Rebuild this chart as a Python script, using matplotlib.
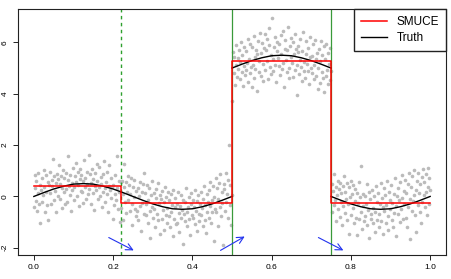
import numpy as np
import matplotlib
matplotlib.use('Agg')
import matplotlib.pyplot as plt

plt.rcParams['font.family'] = ['Liberation Sans', 'DejaVu Sans']

y_seg1 = [
    -0.42, 0.85, 0.31, -0.18, 0.62, -0.55, 0.12, 0.9, -0.3, 0.44, -1.05, 0.27,
    0.71, -0.22, 0.05, 1.02, 0.38, -0.61, 0.19, 0.83, -0.35, 0.57, -0.9, 0.46,
    0.12, 0.95, -0.28, 0.66, 0.41, 1.45, -0.15, 0.78, 0.23, -0.62, 0.54, 0.88,
    0.02, 0.67, 1.21, -0.09, 0.49, 0.81, -0.45, 0.33, 1.02, 0.18, 0.71, -0.31,
    0.92, 0.28, -0.2, 0.63, 1.58, 0.4, 0.07, 0.85, -0.55, 0.51, 0.26, 1.12,
    0.35, -0.12, 0.79, 1.3, 0.55, 0.02, 0.97, 0.44, -0.38, 0.68, 1.05, 0.21,
    0.84, 0.16, -0.25, 0.59, 1.41, 0.37, 0.72, -0.08, 0.96, 0.48, 0.11, 1.63,
    0.29, 0.88, -0.31, 0.53, 1.08, 0.14, 0.69, -0.52, 0.42, 0.93, 0.25, 1.26,
    0.61, -0.1, 0.37, 1.15, 0.02, 0.74, 0.49, -0.43, 0.88, 0.19, 1.38, 0.31,
    -0.22, 0.58, 0.11, 0.94, -0.6, 0.4, 1.22, 0.26, -0.05, 0.71, 0.36, -0.88,
    0.45, -0.34, 0.82, 0.09, -0.15, 1.58, 0.31, -0.48, 0.62, 0.17, -1.0, 0.55,
]
y_seg2 = [
    -0.45, 0.62, 0.08, -0.9, 0.37, 1.28, -0.21, 0.55, -0.63, 0.19, 0.81, -0.12,
    0.43, -0.58, 0.11, 0.72, -0.29, -1.12, 0.35, -0.04, 0.66, -0.47, 0.2, -0.76,
    -0.55, 0.31, -0.9, 0.02, 0.58, -0.38, -1.35, 0.17, -0.24, 0.49, -0.68, 0.9,
    0.12, -0.71, -0.3, 0.45, -1.05, -0.12, 0.33, -0.58, -1.6, 0.07, -0.41, 0.62,
    -0.82, 0.15, -0.47, -1.2, 0.28, -0.05, -0.69, 0.51, -0.93, -0.26, 0.04, -1.48,
    -0.11, -0.88, 0.22, -0.54, -1.31, -0.2, 0.35, -0.72, -0.03, -1.02, -0.46, 0.18,
    -0.77, -0.15, -1.19, 0.09, -0.6, -0.33, -1.55, 0.24, -0.89, -0.42, -0.05, -1.08,
    -0.28, -1.02, 0.19, -0.66, -1.4, -0.37, 0.06, -0.83, -0.51, -1.85, -0.14, -0.7,
    -0.95, -0.22, 0.31, -0.61, -1.17, -0.4, -0.02, -0.88, -1.5, -0.29, 0.12, -0.74,
    -0.13, -0.85, -0.41, 0.26, -1.08, -0.55, -0.19, -1.34, 0.05, -0.67, -0.96, -0.3,
    -0.71, 0.18, -0.45, -1.16, -0.08, 0.42, -0.9, -0.33, -1.42, 0.09, -0.6, -0.21,
    0.25, -0.84, -0.37, 0.58, -1.03, -0.15, -0.6, 0.39, -1.72, -0.02, -0.49, 0.71,
    -0.62, 0.33, -0.1, -1.15, 0.54, -0.4, 0.87, -0.78, -0.25, 0.16, -1.9, 0.48,
    0.3, -0.55, 0.92, -0.21, 0.11, -0.84, 0.63, 2.02, -0.35, 0.45, -1.1, 0.07,
]
y_seg3 = [
    3.73, 5.62, 4.81, 5.44, 4.35, 5.9, 5.12, 4.67, 5.38, 4.95,
    5.71, 4.58, 5.24, 6.02, 4.86, 5.49, 4.32, 5.83, 5.07, 4.74,
    4.91, 5.66, 5.18, 4.44, 6.15, 5.37, 4.79, 5.92, 5.03, 4.28,
    5.82, 5.11, 4.63, 6.24, 5.45, 4.97, 5.69, 4.12, 5.56, 6.05,
    5.27, 4.85, 6.38, 5.6, 4.71, 5.98, 5.14, 4.49, 5.77, 6.31,
    4.93, 5.71, 6.12, 5.29, 4.58, 5.88, 6.55, 5.04, 5.52, 4.77,
    6.96, 5.36, 4.89, 5.81, 6.2, 5.13, 4.45, 5.67, 6.03, 5.41,
    5.08, 5.93, 4.72, 6.27, 5.55, 4.98, 6.44, 5.2, 4.26, 5.74,
    6.08, 5.31, 4.84, 5.69, 6.61, 5.02, 4.6, 5.86, 5.45, 6.17,
    5.19, 4.67, 6.01, 5.53, 4.94, 6.33, 5.76, 5.1, 3.97, 5.64,
    5.87, 4.76, 5.32, 6.14, 5.05, 4.51, 5.68, 6.42, 5.24, 4.88,
    4.62, 5.55, 6.07, 5.16, 4.9, 5.79, 4.38, 5.43, 6.21, 5.01,
    5.47, 4.81, 5.93, 5.12, 4.56, 6.08, 5.34, 4.7, 5.6, 4.17,
    4.99, 5.74, 4.43, 5.28, 6.05, 4.85, 5.51, 4.62, 5.87, 4.08,
    5.36, 4.7, 5.92, 4.94, 4.39, 5.58, 5.15, 4.53, 5.79, 4.88,
]
y_seg4 = [
    0.48, -0.62, 0.21, -0.33, 0.87, -0.15, 0.36, -0.94, 0.05, 0.62,
    -0.48, 0.29, -0.81, 0.54, -0.2, 0.13, -1.1, 0.41, -0.37, 0.78,
    0.19, -0.66, -0.11, 0.52, -0.9, -0.3, 0.37, -1.45, -0.04, 0.61,
    -0.72, 0.08, -0.45, 0.44, -1.02, -0.19, 0.29, -0.83, -1.5, 0.15,
    -0.27, 0.56, -0.88, -0.04, 1.2, -0.61, -1.25, 0.11, -0.39, -0.95,
    0.03, -0.78, -0.31, 0.47, -1.13, -0.52, 0.18, -1.62, -0.09, -0.68,
    -0.86, 0.25, -0.44, -1.05, 0.02, -0.61, -1.38, 0.4, -0.21, -0.92,
    0.12, -0.69, -1.2, -0.28, 0.51, -0.95, -0.06, -1.48, -0.4, 0.33,
    -0.58, 0.07, -1.03, -0.33, 0.6, -0.77, -1.29, 0.19, -0.5, -0.12,
    0.44, -0.9, -0.24, -1.18, 0.1, -0.63, 0.71, -0.36, -1.53, 0.02,
    -0.7, 0.32, -0.15, -1.01, 0.58, -0.47, -0.06, 0.85, -0.89, 0.21,
    -0.29, 0.66, -0.83, 0.14, -1.2, 0.49, -0.42, 0.93, -0.1, -1.67,
    0.38, -0.57, 0.81, -0.18, 0.05, 1.02, -0.74, 0.27, -1.4, 0.6,
    -0.33, 0.92, 0.12, -0.61, 0.47, -1.05, 0.74, -0.2, 1.08, 0.05,
    0.56, -0.42, 0.89, 0.17, -0.73, 0.35, 1.1, -0.28, 0.7, 0.24,
]
y_obs = y_seg1 + y_seg2 + y_seg3 + y_seg4
x_obs = np.linspace(0, 1, len(y_obs))

# true signal, read every 0.025 on each constant piece
truth_x1 = [i * 0.025 for i in range(21)]
truth_y1 = [0.0, 0.15, 0.29, 0.4, 0.48, 0.5, 0.48, 0.4, 0.29, 0.15, 0.0,
            -0.15, -0.29, -0.4, -0.48, -0.5, -0.48, -0.4, -0.29, -0.15, 0.0]
truth_x2 = [0.5 + i * 0.025 for i in range(11)]
truth_y2 = [5.0, 5.15, 5.29, 5.4, 5.48, 5.5, 5.48, 5.4, 5.29, 5.15, 5.0]
truth_x3 = [0.75 + i * 0.025 for i in range(11)]
truth_y3 = [0.0, -0.15, -0.29, -0.4, -0.48, -0.5, -0.48, -0.4, -0.29, -0.15, 0.0]

# SMUCE step estimate
cp = [0.0, 0.22, 0.5, 0.75, 1.0]
smuce_levels = [0.39, -0.27, 5.29, -0.27]

# change point markers
true_cp = [0.22, 0.5, 0.75]
true_cp_style = ['--', '-', '-']

# arrows: start and end
arrow_start = [(0.189, -1.60), (0.471, -2.10), (0.718, -1.60)]
arrow_end = [(0.252, -2.10), (0.532, -1.56), (0.781, -2.10)]

fig = plt.figure(figsize=(4.52, 2.79), dpi=100)
ax = fig.add_axes([18 / 452, 24 / 279, 428 / 452, 246 / 279])

ax.plot(x_obs, y_obs, 'o', color='#BBBBBB', ms=2.6, mec='none', zorder=1)

for xc, ls in zip(true_cp, true_cp_style):
    if ls == '--':
        ax.axvline(xc, color='#2EA02E', lw=1.0, ls=(0, (2.5, 2.5)), zorder=2)
    else:
        ax.axvline(xc, color='#3A9A3A', lw=0.9, zorder=2)

step_x = []
step_y = []
for i, lev in enumerate(smuce_levels):
    step_x += [cp[i], cp[i + 1]]
    step_y += [lev, lev]
ax.plot(step_x, step_y, color='red', lw=1.1, zorder=4, label='SMUCE')
ax.plot(truth_x1, truth_y1, color='black', lw=1.0, zorder=3, label='Truth')
ax.plot(truth_x2, truth_y2, color='black', lw=1.0, zorder=3)
ax.plot(truth_x3, truth_y3, color='black', lw=1.0, zorder=3)

for s, e in zip(arrow_start, arrow_end):
    ax.annotate('', xy=e, xytext=s,
                arrowprops=dict(arrowstyle='->', color='#2233EE', lw=0.8,
                                mutation_scale=12, shrinkA=0, shrinkB=0))

ax.set_xlim(-0.04, 1.04)
ax.set_ylim(-2.28, 7.30)
ax.set_xticks([0.0, 0.2, 0.4, 0.6, 0.8, 1.0])
ax.set_xticklabels(['0.0', '0.2', '0.4', '0.6', '0.8', '1.0'])
ax.set_yticks([-2, 0, 2, 4, 6])
ax.set_yticklabels(['-2', '0', '2', '4', '6'], rotation=90, va='center')
ax.tick_params(direction='out', length=3.6, width=0.6, labelsize=6, pad=3)
for sp in ax.spines.values():
    sp.set_linewidth(0.8)
    sp.set_color('#222222')

ax.legend(loc='upper right', fontsize=8.5, frameon=True, fancybox=False,
          framealpha=1, edgecolor='#222222', borderaxespad=0,
          handlelength=2.2, handletextpad=0.8, labelspacing=0.35,
          borderpad=0.6)

fig.savefig('out.png', dpi=100)
